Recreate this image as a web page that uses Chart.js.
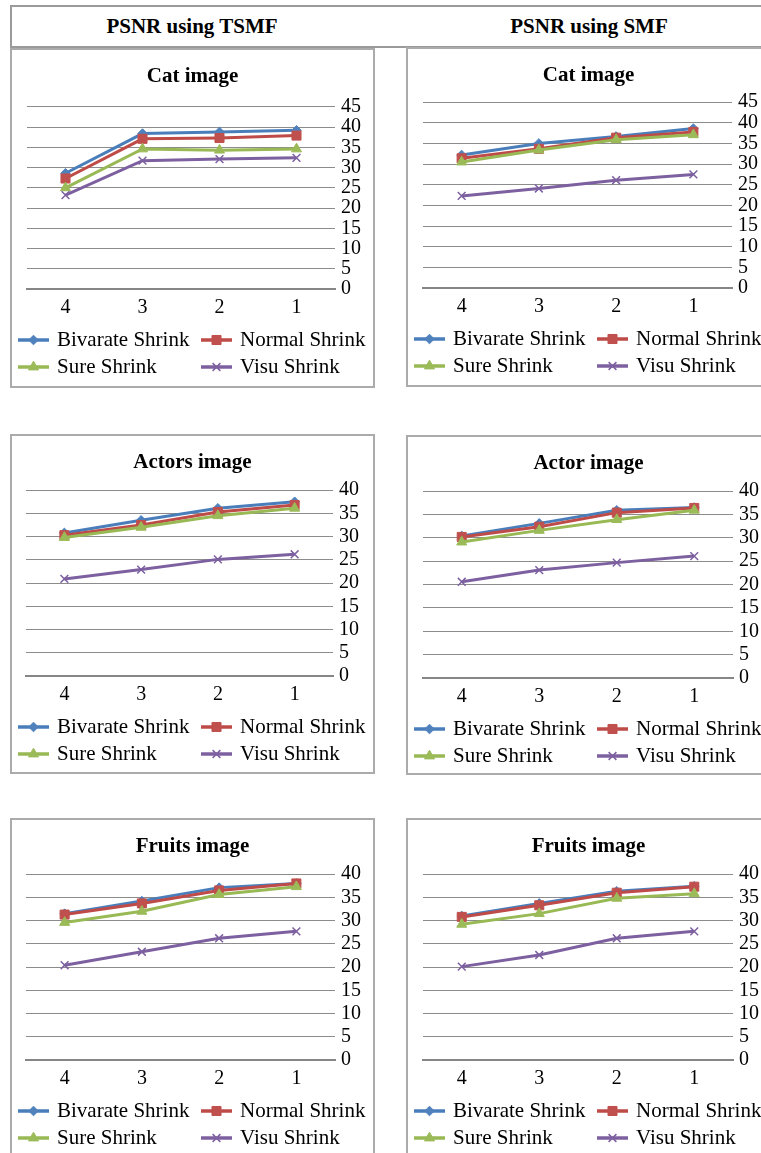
<!DOCTYPE html>
<html>
<head>
<meta charset="utf-8">
<script src="https://cdn.jsdelivr.net/npm/chart.js@4.4.1/dist/chart.umd.min.js"></script>
<style>
  html, body { margin: 0; padding: 0; background: #fff; overflow: hidden; width: 761px; height: 1153px; }
  .hdr { position: absolute; left: 10px; top: 5px; width: 760px; height: 39px;
         border-top: 2px solid #9a9a9a; border-left: 2px solid #9a9a9a; border-bottom: 2px solid #9a9a9a; }
  .htxt { position: absolute; top: 14px; width: 380px; text-align: center;
          font: bold 21px "Liberation Serif", "Times New Roman", serif; color: #000; line-height: 24px; }
  .box { position: absolute; border: 2px solid #ababab; box-sizing: border-box; }
  canvas { position: absolute; }
</style>
</head>
<body>
<div class="hdr"></div>
<div class="htxt" style="left:2px">PSNR using TSMF</div>
<div class="htxt" style="left:399px">PSNR using SMF</div>

<div class="box" style="left:10px;top:48px;width:365px;height:340px"></div>
<div class="box" style="left:406px;top:47px;width:370px;height:340px"></div>
<div class="box" style="left:10px;top:434px;width:365px;height:340px"></div>
<div class="box" style="left:406px;top:435px;width:370px;height:340px"></div>
<div class="box" style="left:10px;top:818px;width:365px;height:345px"></div>
<div class="box" style="left:406px;top:818px;width:370px;height:345px"></div>

<canvas id="c1" width="365" height="340" style="left:10px;top:48px"></canvas>
<canvas id="c2" width="365" height="340" style="left:406px;top:47px"></canvas>
<canvas id="c3" width="365" height="340" style="left:10px;top:434px"></canvas>
<canvas id="c4" width="365" height="340" style="left:406px;top:435px"></canvas>
<canvas id="c5" width="365" height="340" style="left:10px;top:818px"></canvas>
<canvas id="c6" width="365" height="340" style="left:406px;top:818px"></canvas>

<script>
// ---- data ----
const categories = ['4', '3', '2', '1'];
const seriesNames = ['Bivarate Shrink', 'Normal Shrink', 'Sure Shrink', 'Visu Shrink'];

const catTsmfBivarate = [28.6, 38.4, 38.8, 39.2];
const catTsmfNormal   = [27.3, 37.1, 37.3, 37.9];
const catTsmfSure     = [25.0, 34.6, 34.3, 34.6];
const catTsmfVisu     = [23.2, 31.7, 32.1, 32.4];

const catSmfBivarate = [32.2, 35.0, 36.7, 38.6];
const catSmfNormal   = [31.4, 33.7, 36.4, 37.8];
const catSmfSure     = [30.5, 33.4, 35.9, 37.1];
const catSmfVisu     = [22.3, 24.1, 26.1, 27.5];

const actorsTsmfBivarate = [30.8, 33.5, 36.1, 37.5];
const actorsTsmfNormal   = [30.3, 32.5, 35.3, 36.8];
const actorsTsmfSure     = [29.8, 32.0, 34.5, 36.1];
const actorsTsmfVisu     = [20.9, 22.9, 25.1, 26.2];

const actorSmfBivarate = [30.4, 33.1, 35.9, 36.5];
const actorSmfNormal   = [30.2, 32.4, 35.4, 36.4];
const actorSmfSure     = [29.1, 31.6, 33.9, 35.9];
const actorSmfVisu     = [20.6, 23.1, 24.7, 26.1];

const fruitsTsmfBivarate = [31.5, 34.2, 37.1, 38.0];
const fruitsTsmfNormal   = [31.3, 33.7, 36.5, 38.0];
const fruitsTsmfSure     = [29.6, 32.0, 35.6, 37.3];
const fruitsTsmfVisu     = [20.4, 23.3, 26.2, 27.7];

const fruitsSmfBivarate = [31.0, 33.7, 36.3, 37.4];
const fruitsSmfNormal   = [30.8, 33.3, 36.0, 37.3];
const fruitsSmfSure     = [29.2, 31.5, 34.8, 35.8];
const fruitsSmfVisu     = [20.1, 22.6, 26.2, 27.7];

const yMaxTop = 45;
const yMaxOther = 40;
const yStep = 5;

// ---- styles ----
const lineColors  = ['#4A7EBB', '#BE4B48', '#98B954', '#7D60A0'];
const pointColors = ['#4F81BD', '#C0504D', '#9BBB59', '#8064A2'];
const pointStyles = ['rectRot', 'rect', 'triangle', 'crossRot'];
const pointRadii  = [4.8, 6.4, 5.8, 5.5];
const serif = '"Liberation Serif", "Times New Roman", serif';

const colLegend = {
  id: 'colLegend',
  afterDraw(chart, args, opts) {
    const ctx = chart.ctx;
    const bottom = chart.chartArea.bottom;
    ctx.save();
    chart.data.datasets.forEach((ds, i) => {
      const col = i % 2, row = Math.floor(i / 2);
      const x0 = opts.colX[col];
      const y = bottom + opts.rowY[row];
      ctx.strokeStyle = ds.borderColor;
      ctx.lineWidth = 3.5;
      ctx.beginPath();
      ctx.moveTo(x0, y);
      ctx.lineTo(x0 + opts.swatch, y);
      ctx.stroke();
      ctx.fillStyle = ds.pointBackgroundColor;
      ctx.strokeStyle = ds.pointBorderColor;
      ctx.lineWidth = ds.pointBorderWidth;
      Chart.helpers.drawPoint(ctx, {
        pointStyle: ds.pointStyle, radius: ds.pointRadius, rotation: 0,
        borderWidth: ds.pointBorderWidth
      }, x0 + opts.swatch / 2, y);
      ctx.fillStyle = '#000';
      ctx.font = '21px ' + serif;
      ctx.textBaseline = 'middle';
      ctx.textAlign = 'left';
      ctx.fillText(ds.label, x0 + opts.swatch + opts.gap, y);
    });
    ctx.restore();
  }
};

function makeChart(id, title, values, yMax, geo) {
  const W = 365, H = 340;
  const datasets = values.map((vals, i) => ({
    label: seriesNames[i],
    data: vals,
    borderColor: lineColors[i],
    backgroundColor: pointColors[i],
    pointBackgroundColor: pointColors[i],
    pointBorderColor: i === 3 ? lineColors[i] : pointColors[i],
    pointBorderWidth: i === 3 ? 1.5 : 1,
    pointStyle: pointStyles[i],
    pointRadius: pointRadii[i],
    borderWidth: 3,
    tension: 0,
    order: 4 - i
  }));
  new Chart(document.getElementById(id), {
    type: 'line',
    data: { labels: categories, datasets },
    plugins: [colLegend],
    options: {
      responsive: false,
      animation: false,
      devicePixelRatio: 1,
      layout: { padding: 0 },
      plugins: {
        legend: { display: false },
        tooltip: { enabled: false },
        title: {
          display: true, text: title, color: '#000',
          font: { family: serif, size: 21, weight: 'bold', lineHeight: 1.15 },
          padding: { top: 17, bottom: geo.top - 17 - 24 }
        },
        colLegend: { colX: [8, 191], rowY: [51, 78], swatch: 31, gap: 8 }
      },
      scales: {
        x: {
          type: 'category', offset: true,
          grid: { display: false, drawTicks: false },
          border: { display: true, color: '#868686', width: 2 },
          ticks: { color: '#000', font: { family: serif, size: 20 }, padding: 7, maxRotation: 0 },
          afterFit(s) { s.height = H - geo.bottom; }
        },
        y: {
          position: 'right', min: 0, max: yMax,
          grid: { color: '#8c8c8c', lineWidth: 1, drawTicks: false },
          border: { display: false },
          ticks: { stepSize: yStep, autoSkip: false, color: '#000', font: { family: serif, size: 20 }, padding: 6 },
          afterFit(s) { s.width = W - geo.right; }
        },
        spacer: {
          type: 'linear', position: 'left', display: true,
          grid: { display: false, drawTicks: false },
          border: { display: false },
          ticks: { display: false },
          afterFit(s) { s.width = geo.left; }
        }
      }
    }
  });
}

makeChart('c1', 'Cat image', [catTsmfBivarate, catTsmfNormal, catTsmfSure, catTsmfVisu], yMaxTop,
  { left: 17, right: 325, top: 58.7, bottom: 241 });
makeChart('c2', 'Cat image', [catSmfBivarate, catSmfNormal, catSmfSure, catSmfVisu], yMaxTop,
  { left: 17, right: 326, top: 55, bottom: 241 });
makeChart('c3', 'Actors image', [actorsTsmfBivarate, actorsTsmfNormal, actorsTsmfSure, actorsTsmfVisu], yMaxOther,
  { left: 16, right: 323, top: 56, bottom: 242 });
makeChart('c4', 'Actor image', [actorSmfBivarate, actorSmfNormal, actorSmfSure, actorSmfVisu], yMaxOther,
  { left: 17, right: 327, top: 56, bottom: 243 });
makeChart('c5', 'Fruits image', [fruitsTsmfBivarate, fruitsTsmfNormal, fruitsTsmfSure, fruitsTsmfVisu], yMaxOther,
  { left: 16, right: 325, top: 56, bottom: 242 });
makeChart('c6', 'Fruits image', [fruitsSmfBivarate, fruitsSmfNormal, fruitsSmfSure, fruitsSmfVisu], yMaxOther,
  { left: 17, right: 327, top: 56, bottom: 242 });
</script>
</body>
</html>
